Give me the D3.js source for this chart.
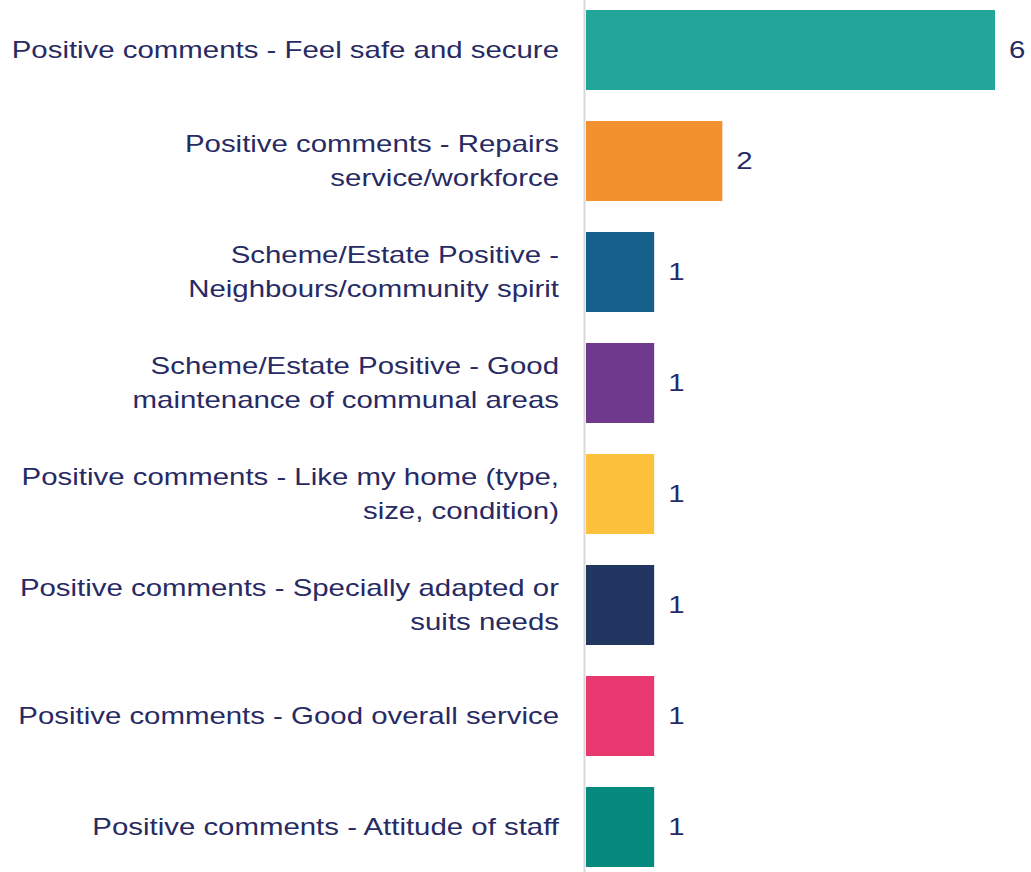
<!DOCTYPE html>
<html><head><meta charset="utf-8">
<script src="https://cdn.jsdelivr.net/npm/d3@7"></script>
<style>body{margin:0;background:#fff;}svg{display:block;}</style>
</head><body>
<svg id="c" width="1031" height="872"></svg>
<script>
const categories = [
  "Positive comments - Feel safe and secure",
  "Positive comments - Repairs service/workforce",
  "Scheme/Estate Positive - Neighbours/community spirit",
  "Scheme/Estate Positive - Good maintenance of communal areas",
  "Positive comments - Like my home (type, size, condition)",
  "Positive comments - Specially adapted or suits needs",
  "Positive comments - Good overall service",
  "Positive comments - Attitude of staff"
];
const values = [6, 2, 1, 1, 1, 1, 1, 1];
const colors = ["#22a699", "#f2912e", "#14608a", "#6f3a8d", "#fdc13b", "#213761", "#e8386f", "#068a7e"];

const svg = d3.select("#c");
const textColor = "#272a63";
const font = "Liberation Sans, Arial, sans-serif";
const sx = 1.225; // horizontal stretch of the text

const x = d3.scaleLinear().domain([0, 6]).range([586, 995]);
const y = d3.scaleBand().domain(categories).range([-5.5, 882.5])
  .paddingInner(31/111).paddingOuter(15.5/111);

svg.append("line").attr("x1", 584.5).attr("x2", 584.5).attr("y1", 0).attr("y2", 872)
  .attr("stroke", "#d9d9d9").attr("stroke-width", 2);

svg.selectAll("rect.bar").data(categories).join("rect").attr("class", "bar")
  .attr("x", x(0)).attr("y", d => y(d))
  .attr("width", (d, i) => x(values[i]) - x(0))
  .attr("height", y.bandwidth())
  .attr("fill", (d, i) => colors[i]);

svg.selectAll("text.val").data(categories).join("text").attr("class", "val")
  .attr("transform", (d, i) => `translate(${x(values[i]) + 14},${y(d) + y.bandwidth() / 2}) scale(${sx},1)`)
  .attr("dy", "0.35em")
  .attr("font-family", font).attr("font-size", 24).attr("fill", textColor)
  .text((d, i) => values[i]);

// wrapped category labels
const maxW = 452;
const measurer = svg.append("text").attr("font-family", font).attr("font-size", 24).attr("visibility", "hidden");
function wrap(str) {
  const words = str.split(" ");
  const lines = [];
  let cur = "";
  for (const w of words) {
    const t = cur ? cur + " " + w : w;
    measurer.text(t);
    if (measurer.node().getComputedTextLength() > maxW && cur) { lines.push(cur); cur = w; }
    else cur = t;
  }
  if (cur) lines.push(cur);
  return lines;
}
const lh = 34;
categories.forEach(c => {
  const lines = wrap(c);
  const cy = y(c) + y.bandwidth() / 2;
  const t = svg.append("text").attr("text-anchor", "end")
    .attr("transform", `translate(559,${cy}) scale(${sx},1)`)
    .attr("font-family", font).attr("font-size", 24).attr("fill", textColor);
  lines.forEach((l, i) => {
    t.append("tspan").attr("x", 0)
      .attr("y", (i - (lines.length - 1) / 2) * lh)
      .attr("dy", "0.35em").text(l);
  });
});
measurer.remove();
</script>
</body></html>
